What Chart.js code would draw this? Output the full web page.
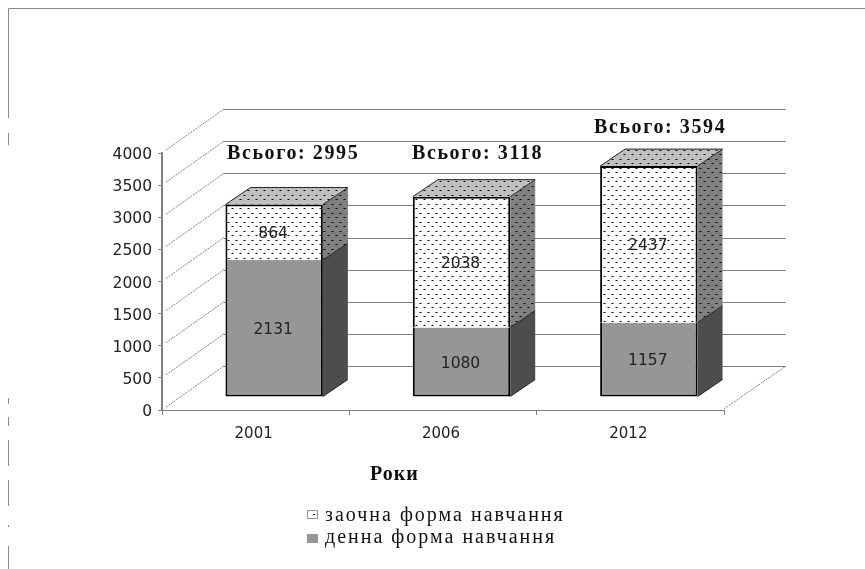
<!doctype html>
<html lang="uk">
<head>
<meta charset="utf-8">
<title>Роки</title>
<script src="https://cdn.jsdelivr.net/npm/chart.js"></script>
<style>
  html, body { margin: 0; padding: 0; background: #fff; }
  canvas { display: block; }
</style>
</head>
<body>
<canvas id="myChart" width="865" height="569"></canvas>
<script>
const years = ['2001', '2006', '2012'];
const fullTime = [2131, 1080, 1157];
const partTime = [864, 2038, 2437];
const yTicks = [0, 500, 1000, 1500, 2000, 2500, 3000, 3500, 4000];
const partTimeLabel = 'заочна форма навчання';
const fullTimeLabel = 'денна форма навчання';
const axisTitle = 'Роки';
const totalPrefix = 'Всього: ';

// dotted fill, same dots on every shade
function dots(bg) {
  const c = document.createElement('canvas');
  c.width = 8; c.height = 9;
  const g = c.getContext('2d');
  g.fillStyle = bg;
  g.fillRect(0, 0, 8, 9);
  g.fillStyle = '#000';
  g.fillRect(1, 1, 2, 1);
  g.fillRect(5, 5, 2, 1);
  return g.createPattern(c, 'repeat');
}

const FRONT = '#969696', SIDE = '#4d4d4d';
const patFront = dots('#ffffff'), patSide = dots('#808080'), patTop = dots('#c0c0c0');

// bars sit on the floor of the box, a bit behind the front axis
const BAR_DX = 18.5, BAR_DY = -13;
const DEPTH_X = 25, DEPTH_Y = -17;
// back wall of the box
const WALL_DX = 62, WALL_DY = -44;
const GRID = '#808080';

function poly(ctx, pts, fill) {
  ctx.beginPath();
  pts.forEach((p, i) => i ? ctx.lineTo(p[0], p[1]) : ctx.moveTo(p[0], p[1]));
  ctx.closePath();
  ctx.fillStyle = fill;
  ctx.fill();
}

const box3d = {
  id: 'box3d',
  beforeDatasetsDraw(chart) {
    const { ctx, chartArea: a, scales: { y } } = chart;
    ctx.save();
    // back wall lines
    ctx.strokeStyle = GRID;
    ctx.lineWidth = 1;
    yTicks.forEach(v => {
      const py = Math.round(y.getPixelForValue(v) + WALL_DY) + 0.5;
      ctx.beginPath();
      ctx.moveTo(a.left + WALL_DX, py);
      ctx.lineTo(a.right + WALL_DX, py);
      ctx.stroke();
    });
    // left wall, dashed
    ctx.setLineDash([2, 1]);
    yTicks.forEach(v => {
      const py = y.getPixelForValue(v);
      ctx.beginPath();
      ctx.moveTo(a.left + 4, py - 3);
      ctx.lineTo(a.left + WALL_DX, py + WALL_DY);
      ctx.stroke();
    });
    // right edge of the floor
    ctx.beginPath();
    ctx.moveTo(a.right, y.getPixelForValue(0) - 1);
    ctx.lineTo(a.right + WALL_DX, y.getPixelForValue(0) + WALL_DY);
    ctx.stroke();
    ctx.setLineDash([]);
    ctx.restore();

    // from here to afterDatasetsDraw everything is shifted onto the floor
    ctx.save();
    ctx.translate(BAR_DX, BAR_DY);
    const low = chart.getDatasetMeta(1).data;
    const up = chart.getDatasetMeta(0).data;
    low.forEach((el, i) => {
      const r = el.x + el.width / 2;
      const l = el.x - el.width / 2;
      const base = el.base, mid = el.y, top = up[i].y;
      poly(ctx, [[r, base], [r + DEPTH_X, base + DEPTH_Y], [r + DEPTH_X, mid + DEPTH_Y], [r, mid]], SIDE);
      poly(ctx, [[r, mid], [r + DEPTH_X, mid + DEPTH_Y], [r + DEPTH_X, top + DEPTH_Y], [r, top]], patSide);
      poly(ctx, [[l, top], [l + DEPTH_X, top + DEPTH_Y], [r + DEPTH_X, top + DEPTH_Y], [r, top]], patTop);
      ctx.strokeStyle = '#222';
      ctx.lineWidth = 1;
      ctx.beginPath();
      ctx.moveTo(r, base); ctx.lineTo(r + DEPTH_X, base + DEPTH_Y);
      ctx.moveTo(l, top); ctx.lineTo(l + DEPTH_X, top + DEPTH_Y);
      ctx.lineTo(r + DEPTH_X, top + DEPTH_Y);
      ctx.lineTo(r, top);
      ctx.moveTo(r, mid); ctx.lineTo(r + DEPTH_X, mid + DEPTH_Y);
      ctx.stroke();
    });
  },
  afterDatasetsDraw(chart) {
    const { ctx } = chart;
    // value labels, still shifted
    ctx.font = '15.5px "DejaVu Sans"';
    ctx.fillStyle = '#222';
    ctx.textAlign = 'center';
    ctx.textBaseline = 'middle';
    [0, 1].forEach(d => {
      chart.getDatasetMeta(d).data.forEach((el, i) => {
        ctx.fillText(chart.data.datasets[d].data[i], el.x - 1, (el.y + el.base) / 2 + 1.5);
      });
    });
    ctx.restore();
  },
  afterDraw(chart) {
    const { ctx } = chart;
    ctx.save();

    // broken outer frame of the original scan
    ctx.strokeStyle = '#8a8a8a';
    ctx.lineWidth = 1;
    ctx.beginPath();
    ctx.moveTo(865, 8.5); ctx.lineTo(8.5, 8.5); ctx.lineTo(8.5, 118);
    [[133, 145], [398, 404], [417, 426], [440, 466], [480, 506], [525, 527], [546, 569]].forEach(s => {
      ctx.moveTo(8.5, s[0]); ctx.lineTo(8.5, s[1]);
    });
    ctx.stroke();

    // totals above the bars
    ctx.fillStyle = '#111';
    ctx.textAlign = 'left';
    ctx.textBaseline = 'alphabetic';
    ctx.font = 'bold 20px "Liberation Serif"';
    ctx.letterSpacing = '1.6px';
    const spots = [[227, 159], [412, 159], [594, 133]];
    years.forEach((_, i) => {
      ctx.fillText(totalPrefix + (fullTime[i] + partTime[i]), spots[i][0], spots[i][1]);
    });

    // axis title, off centre in the original
    ctx.letterSpacing = '1px';
    ctx.fillText(axisTitle, 370, 480);

    // legend
    ctx.font = '20px "Liberation Serif"';
    ctx.letterSpacing = '2px';
    ctx.fillText(partTimeLabel, 325, 521);
    ctx.fillText(fullTimeLabel, 325, 543);
    ctx.letterSpacing = '0px';
    ctx.fillStyle = patFront;
    ctx.fillRect(307, 510, 11, 9);
    ctx.strokeStyle = '#999';
    ctx.strokeRect(307.5, 510.5, 10, 8);
    ctx.fillStyle = FRONT;
    ctx.fillRect(307, 534, 11, 9);
    ctx.restore();
  }
};

new Chart(document.getElementById('myChart'), {
  type: 'bar',
  data: {
    labels: years,
    datasets: [
      {
        label: partTimeLabel,
        data: partTime,
        backgroundColor: patFront,
        borderColor: '#000',
        borderWidth: { left: 2, right: 2, top: 2, bottom: 0 },
        borderSkipped: false,
        stack: 's',
        order: 2
      },
      {
        label: fullTimeLabel,
        data: fullTime,
        backgroundColor: FRONT,
        borderColor: '#000',
        borderWidth: { left: 2, right: 2, top: 0, bottom: 2 },
        borderSkipped: false,
        stack: 's',
        order: 1
      }
    ]
  },
  options: {
    responsive: false,
    animation: false,
    categoryPercentage: 0.52,
    barPercentage: 1,
    layout: { padding: { left: 112, top: 153, right: 141, bottom: 129 } },
    plugins: { legend: { display: false }, title: { display: false }, tooltip: { enabled: false } },
    scales: {
      x: {
        stacked: true,
        afterFit: s => { s.height = 30; },
        border: { color: GRID, width: 1 },
        grid: {
          drawOnChartArea: false,
          tickLength: 5,
          tickColor: c => c.index === years.length ? 'rgba(0,0,0,0)' : GRID
        },
        ticks: { color: '#222', padding: 10, labelOffset: -2, maxRotation: 0, font: { family: 'DejaVu Sans', size: 15 } }
      },
      y: {
        stacked: true,
        min: 0,
        max: 4000,
        afterFit: s => { s.width = 50; },
        border: { color: GRID, width: 2 },
        grid: { drawOnChartArea: false, tickLength: 4, tickColor: GRID },
        ticks: {
          stepSize: 500,
          color: '#222',
          padding: 6,
          labelOffset: 2,
          font: { family: 'DejaVu Sans', size: 15.5 },
          callback: v => String(v)
        }
      }
    }
  },
  plugins: [box3d]
});
</script>
</body>
</html>
